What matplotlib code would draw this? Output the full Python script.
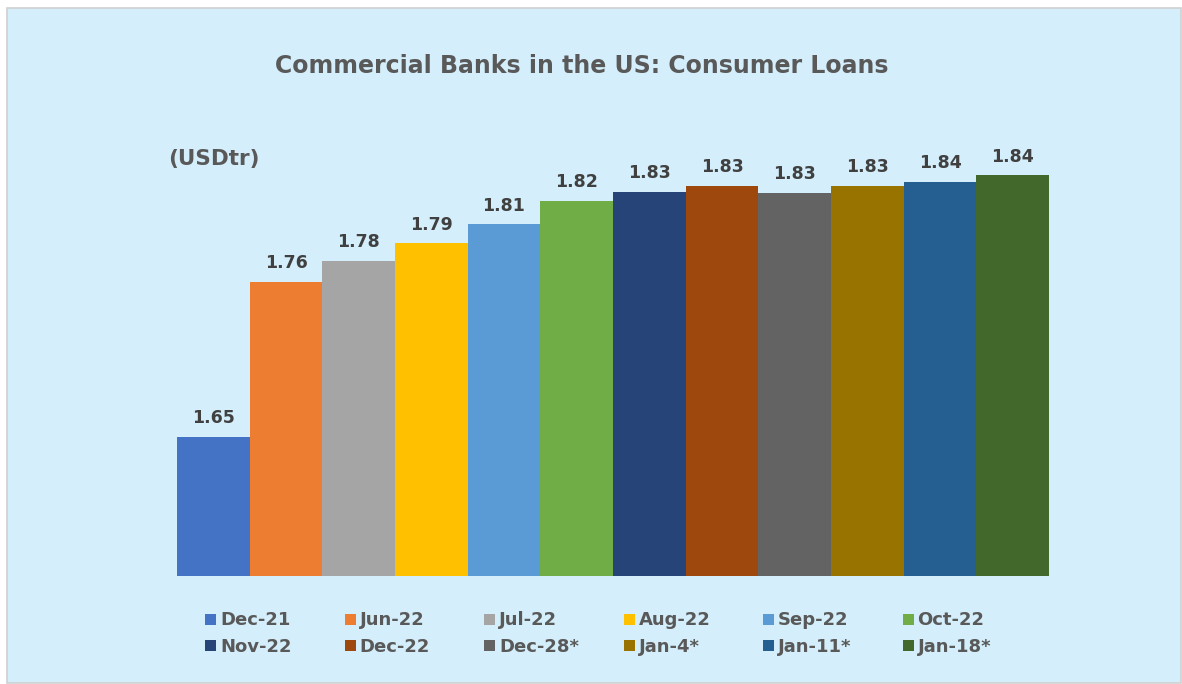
import numpy as np
import matplotlib
matplotlib.use("Agg")
import matplotlib.pyplot as plt
from matplotlib.patches import Rectangle

# data
labels = ["Dec-21", "Jun-22", "Jul-22", "Aug-22", "Sep-22", "Oct-22",
          "Nov-22", "Dec-22", "Dec-28*", "Jan-4*", "Jan-11*", "Jan-18*"]
values = [1.650, 1.764, 1.779, 1.792, 1.806, 1.823,
          1.830, 1.834, 1.829, 1.834, 1.837, 1.842]
colors = ["#4472C4", "#ED7D31", "#A5A5A5", "#FFC000", "#5B9BD5", "#70AD47",
          "#264478", "#9E480E", "#636363", "#997300", "#255E91", "#43682B"]

W, H = 1182, 684
fig = plt.figure(figsize=(W / 100, H / 100), dpi=100, facecolor="white")

# light blue chart area with thin border
fig.patches.append(Rectangle((7 / W, 1 / H), (W - 8) / W, (H - 9) / H,
                             transform=fig.transFigure, facecolor="#D4EFFB",
                             edgecolor="#D0D0D0", linewidth=1.2, zorder=-5))

ax = fig.add_axes([177 / W, (H - 576) / H, (1049 - 177) / W, 436 / H])
ax.set_zorder(2)
ax.set_facecolor("none")
x = np.arange(len(values))
ax.bar(x, values, width=1.0, color=colors, bottom=0)
ax.set_xlim(-0.5, len(values) - 0.5)
ax.set_ylim(1.5475, 1.8681)
ax.axis("off")

for xi, v in zip(x, values):
    ax.annotate(f"{v:.2f}", (xi, v), xytext=(0, 10), textcoords="offset points",
                ha="center", va="baseline", fontsize=12.5, fontweight="bold",
                color="#404040", annotation_clip=False)

fig.text(582 / W, 1 - 73 / H, "Commercial Banks in the US: Consumer Loans",
         ha="center", va="baseline", fontsize=17, fontweight="bold",
         color="#595959")
fig.text(168 / W, 1 - 165 / H, "(USDtr)", ha="left", va="baseline",
         fontsize=15.5, fontweight="bold", color="#595959")

# legend laid out like Excel: 6 columns, row-wise order
for i, (lab, c) in enumerate(zip(labels, colors)):
    col, row = i % 6, i // 6
    lx = 205 + col * 139.5
    ly = 619 + row * 26.5
    fig.patches.append(Rectangle((lx / W, 1 - (ly + 5.5) / H), 11 / W, 11 / H,
                                 transform=fig.transFigure, facecolor=c,
                                 edgecolor="none"))
    fig.text((lx + 15) / W, 1 - (ly + 6) / H, lab, ha="left", va="baseline",
             fontsize=13, fontweight="bold", color="#595959")

fig.savefig("out.png", dpi=100, facecolor=fig.get_facecolor())
